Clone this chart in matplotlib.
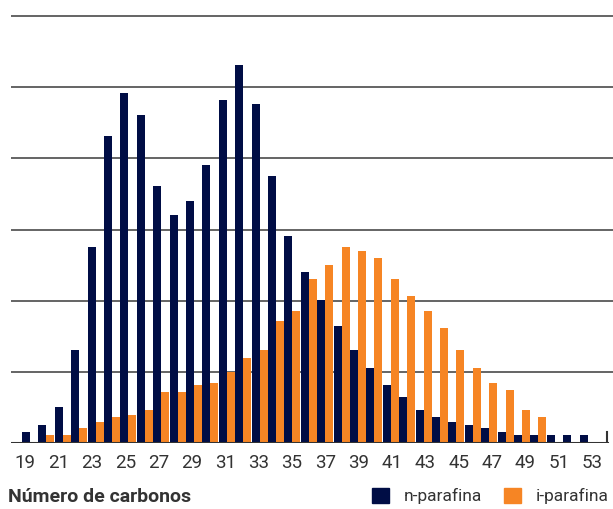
import matplotlib

matplotlib.use("Agg")
import matplotlib.pyplot as plt
import numpy as np
from matplotlib.patches import Patch

# carbon number distribution (relative units, one grid step = 1)
carbons = list(range(19, 54))
n_parafina = [0.15, 0.25, 0.50, 1.30, 2.76, 4.31, 4.92, 4.61, 3.61, 3.21,
              3.40, 3.91, 4.82, 5.31, 4.76, 3.75, 2.91, 2.41, 2.01, 1.65,
              1.30, 1.06, 0.81, 0.65, 0.46, 0.36, 0.30, 0.25, 0.21, 0.15,
              0.11, 0.11, 0.11, 0.11, 0.11]
i_parafina = [0.02, 0.11, 0.11, 0.21, 0.30, 0.36, 0.40, 0.46, 0.71, 0.71,
              0.81, 0.85, 1.00, 1.20, 1.30, 1.71, 1.86, 2.31, 2.50, 2.76,
              2.70, 2.60, 2.31, 2.06, 1.86, 1.61, 1.30, 1.06, 0.85, 0.75,
              0.46, 0.36, 0.02, 0.02, 0.02]
label_carbons = carbons[::2]
tick_labels = [str(c) for c in label_carbons]

NAVY = "#000d45"
ORANGE = "#f68524"
TEXT = "#333333"

plt.rcParams["font.family"] = ["Roboto", "DejaVu Sans"]

fig = plt.figure(figsize=(6.13, 5.09), dpi=100)
ax = fig.add_axes([0.018, 0.1297, 0.982, 0.8428])

x = np.array(carbons)
w = 0.49
ax.bar(x - w / 2, n_parafina, width=w, color=NAVY, zorder=3)
ax.bar(x + w / 2, i_parafina, width=w, color=ORANGE, zorder=3)

ax.set_xlim(17.84, 54.55)
ax.set_ylim(0, 6.03)
ax.set_yticks(range(1, 7))
ax.yaxis.grid(True, color="#4a4a4a", linewidth=1.2, zorder=0)
ax.tick_params(axis="y", left=False, labelleft=False)

# the source spreads its labels slightly wider than the bar groups
lc = np.array(label_carbons)
ax.set_xticks(18.7 + (lc - 19) * 1.017)
ax.set_xticklabels(tick_labels, fontsize=13.5, color=TEXT)
ax.tick_params(axis="x", length=0, pad=8)
for s in ax.spines.values():
    s.set_visible(False)

# baseline with closing tick at the right end
ax.axhline(0, xmin=0, xmax=0.99, color="#333333", linewidth=2.2, zorder=4)
ax.axvline(54.18, ymin=0, ymax=0.025, color="#333333", linewidth=1.5, zorder=4)

fig.text(0.013, 0.006, "Número de carbonos", fontsize=14, fontweight="bold",
         color=TEXT, ha="left", va="bottom")

handles = [Patch(color=NAVY, label="n-parafina"),
           Patch(color=ORANGE, label="i-parafina")]
fig.legend(handles=handles, loc="lower right", bbox_to_anchor=(1.004, -0.004),
           ncol=2, frameon=False, fontsize=12.5, handlelength=0.95,
           handleheight=0.95, handletextpad=0.85, columnspacing=1.3,
           labelcolor=TEXT, borderaxespad=0.0)

fig.savefig("out.png", dpi=100)
plt.close(fig)
